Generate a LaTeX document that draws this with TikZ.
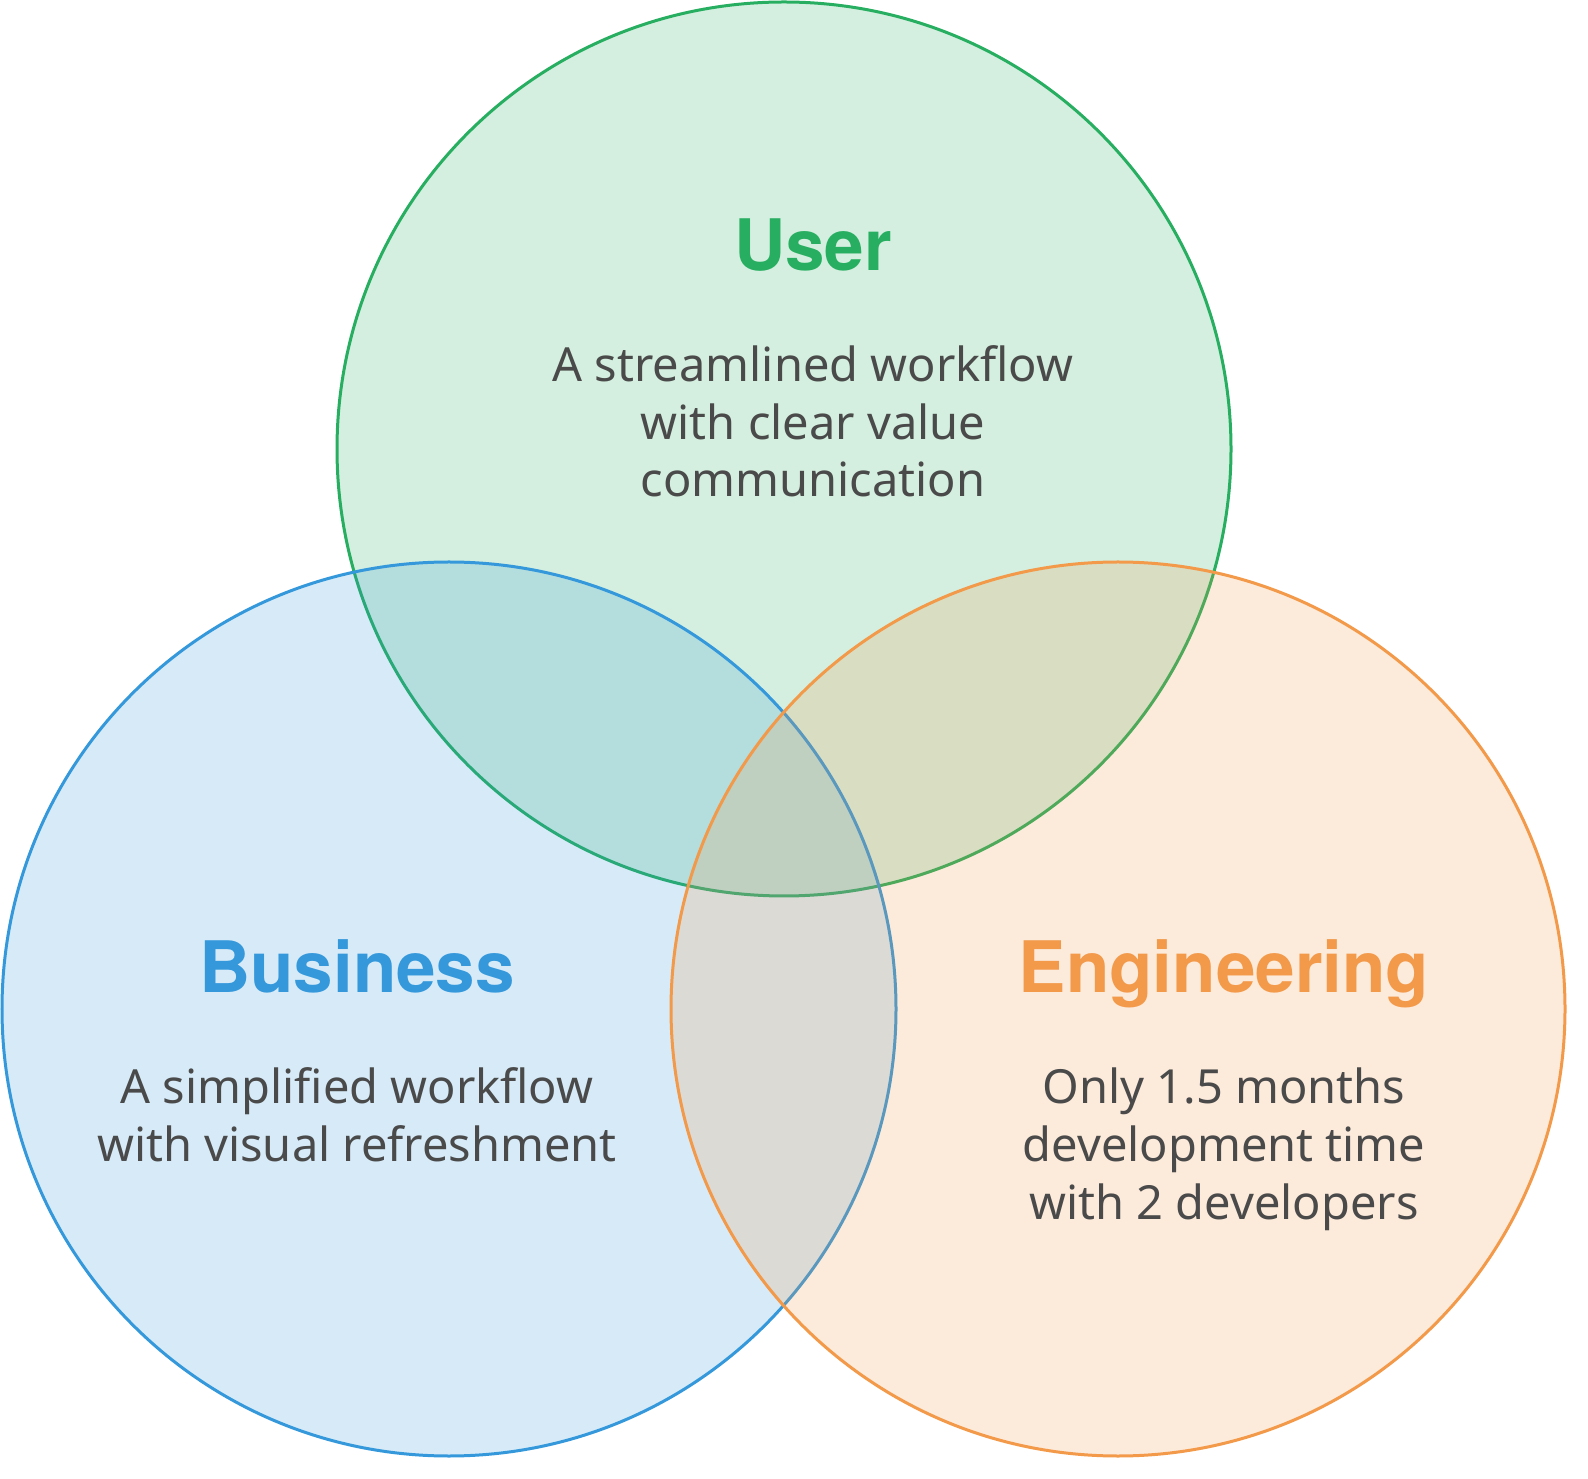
\documentclass[tikz,border=0pt]{standalone}
\usepackage{fontspec}
\setmainfont{Noto Sans}
\newfontfamily\titlefont{TeX Gyre Heros}
\usetikzlibrary{positioning}
\definecolor{usergreen}{HTML}{27AE60}
\definecolor{bizblue}{HTML}{3498DB}
\definecolor{engorange}{HTML}{F2994A}
\definecolor{bodygray}{HTML}{4A4A4A}
\tikzset{
  set/.style={line width=1.5pt,draw=#1,fill=#1,fill opacity=0.2},
  title/.style={font=\titlefont\fontsize{35.5}{44}\selectfont\bfseries,text=#1,anchor=base,inner sep=0pt},
  body/.style={font=\fontsize{23.5}{28.9}\selectfont,text=bodygray,align=center,anchor=base,inner sep=0pt},
}
\begin{document}
\begin{tikzpicture}[x=0.5pt,y=0.5pt]
\useasboundingbox (0,0) rectangle (1588,1478);
% the three sets
\draw[set=usergreen] (784,1029) circle (447);
\draw[set=bizblue] (449,469) circle (447);
\draw[set=engorange] (1118,469) circle (447);
% labels
\node[title=usergreen] (user) at (813,1207) {User};
\node[body] (usertext) at (813,981) {A streamlined workflow\\with clear value\\communication};
\node[title=bizblue] (biz) at (357,486) {Business};
\node[body] (biztext) at (357,317) {A simplified workflow\\with visual refreshment};
\node[title=engorange] (eng) at (1224,486) {Engineering};
\node[body] (engtext) at (1224,259) {Only 1.5 months\\development time\\with 2 developers};
\end{tikzpicture}
\end{document}
